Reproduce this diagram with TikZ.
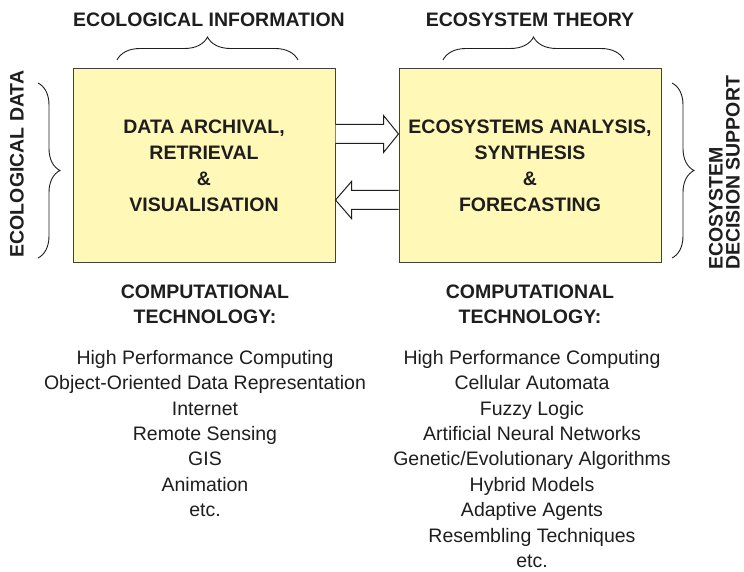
\documentclass[tikz,border=0pt]{standalone}
\usepackage{fontspec}
\setmainfont{Liberation Sans}
\usepackage{xcolor}
\usetikzlibrary{positioning,calc,decorations.pathreplacing}
\definecolor{stagefill}{HTML}{FFF8B6}
\definecolor{ink}{HTML}{1E1E1E}

\begin{document}
\begin{tikzpicture}[x=1pt, y=-1pt,
  stage/.style={draw=ink!85, line width=1pt, fill=stagefill, minimum width=262pt, minimum height=193pt, inner sep=0pt, align=center, font=\bfseries\fontsize{19.5}{26}\selectfont, text=ink},
  hdr/.style={font=\bfseries\fontsize{19.5}{24}\selectfont, text=ink, inner sep=0pt},
  sidelbl/.style={hdr, rotate=90},
  techlbl/.style={hdr, align=center, font=\bfseries\fontsize{19.5}{25}\selectfont, anchor=north},
  toollist/.style={align=center, font=\fontsize{19.5}{25.4}\selectfont, text=ink, inner sep=0pt, anchor=north},
  curly/.style={draw=ink, line width=0.9pt, decorate, decoration={brace, amplitude=#1}},
  hollow/.style={draw=ink, line width=1pt, fill=white, line join=miter},
]

\useasboundingbox[fill=white] (0,0) rectangle (744,572);

\def\shaft{9.5}
\def\headw{18.5}

% --- Stages ---
\node[stage] (data) at (204,165.5) {DATA ARCHIVAL,\\RETRIEVAL\\\&\\VISUALISATION};
\node[stage] (fore) at (530,165.5) {ECOSYSTEMS ANALYSIS,\\SYNTHESIS\\\&\\FORECASTING};

% --- Headers and braces ---
\node[hdr, anchor=base] (info) at (209,27) {ECOLOGICAL INFORMATION};
\draw[curly=23pt] (117,60) -- (298,60);
\node[hdr, anchor=base] (theory) at (530,27) {ECOSYSTEM THEORY};
\draw[curly=23pt] (443,60) -- (624,60);

\node[sidelbl] (ecodata) at (17,164) {ECOLOGICAL DATA};
\draw[curly=22pt] (38,83) -- (38,258);
\node[sidelbl, anchor=west, align=left, font=\bfseries\fontsize{19.5}{17}\selectfont] (support) at (724.5,270) {ECOSYSTEM\\DECISION SUPPORT};
\draw[curly=22pt] (672,83) -- (672,258);

% --- Hollow arrows between stages ---
\path (data.east) ++(0,-31.5) coordinate (r0);
\draw[hollow] ($(r0)+(0,-\shaft)$) -- ($(r0)+(48,-\shaft)$) -- ($(r0)+(48,-\headw)$)
  -- (fore.west |- r0) -- ($(r0)+(48,\headw)$) -- ($(r0)+(48,\shaft)$) -- ($(r0)+(0,\shaft)$);
\path (fore.west) ++(0,34.5) coordinate (l0);
\draw[hollow] ($(l0)+(0,-\shaft)$) -- ($(l0)+(-47,-\shaft)$) -- ($(l0)+(-47,-\headw)$)
  -- (data.east |- l0) -- ($(l0)+(-47,\headw)$) -- ($(l0)+(-47,\shaft)$) -- ($(l0)+(0,\shaft)$);

% --- Computational technology ---
\node[techlbl] (techL) at (205,285) {COMPUTATIONAL\\TECHNOLOGY:};
\node[toollist] (toolsL) at (205,350) {High Performance Computing\\Object-Oriented Data Representation\\Internet\\Remote Sensing\\GIS\\Animation\\etc.};
\node[techlbl] (techR) at (530,285) {COMPUTATIONAL\\TECHNOLOGY:};
\node[toollist] (toolsR) at (532,350) {High Performance Computing\\Cellular Automata\\Fuzzy Logic\\Artificial Neural Networks\\Genetic/Evolutionary Algorithms\\Hybrid Models\\Adaptive Agents\\Resembling Techniques\\etc.};

\end{tikzpicture}
\end{document}
